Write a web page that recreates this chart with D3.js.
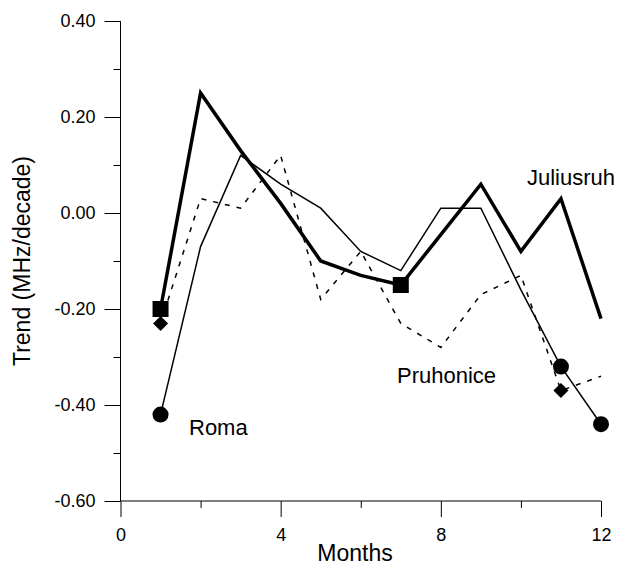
<!DOCTYPE html>
<html>
<head>
<meta charset="utf-8">
<script src="https://cdn.jsdelivr.net/npm/d3@7"></script>
<style>
  html, body { margin: 0; padding: 0; background: #fff; }
  svg { display: block; font-family: Arial, "Liberation Sans", sans-serif; }
</style>
</head>
<body>
<svg id="chart" width="623" height="571"></svg>
<script>
const months = [1, 2, 3, 4, 5, 6, 7, 8, 9, 10, 11, 12];
const juliusruh = [-0.20, 0.25, 0.13, 0.02, -0.10, -0.13, -0.15, -0.045, 0.06, -0.08, 0.03, -0.22];
const roma = [-0.42, -0.07, 0.12, 0.06, 0.01, -0.08, -0.12, 0.01, 0.01, -0.16, -0.32, -0.44];
const pruhonice = [-0.23, 0.03, 0.01, 0.12, -0.18, -0.08, -0.23, -0.28, -0.17, -0.13, -0.37, -0.34];
const yMajorTicks = [-0.6, -0.4, -0.2, 0.0, 0.2, 0.4];
const yMinorTicks = [-0.5, -0.3, -0.1, 0.1, 0.3];
const xMajorTicks = [0, 4, 8, 12];
const xMinorTicks = [2, 6, 10];
const julMarkers = [1, 7];
const romaMarkers = [1, 11, 12];
const pruMarkers = [1, 11];

const svg = d3.select("#chart");
const x = d3.scaleLinear().domain([0, 12]).range([120.5, 601]);
const y = d3.scaleLinear().domain([-0.6, 0.4]).range([501, 21]);

const fmt = v => d3.format(".2f")(v).replace("\u2212", "-");

// axes
const yAxis = svg.append("g").attr("transform", "translate(120.5,0)");
yAxis.call(d3.axisLeft(y).tickValues(yMajorTicks).tickSize(16).tickPadding(9).tickFormat(fmt).tickSizeOuter(0));
yAxis.select(".domain").remove();
yAxis.selectAll(".tick text").attr("font-size", 18).attr("font-family", "Arial, 'Liberation Sans', sans-serif").attr("fill", "#000");
const yMinor = svg.append("g").attr("transform", "translate(120.5,0)");
yMinor.call(d3.axisLeft(y).tickValues(yMinorTicks).tickSize(7).tickFormat(""));
yMinor.select(".domain").remove();

const xAxis = svg.append("g").attr("transform", "translate(0,501)");
xAxis.call(d3.axisBottom(x).tickValues(xMajorTicks).tickSize(16).tickPadding(11).tickFormat(d3.format("d")).tickSizeOuter(0));
xAxis.select(".domain").remove();
xAxis.selectAll(".tick text").attr("font-size", 18).attr("font-family", "Arial, 'Liberation Sans', sans-serif").attr("fill", "#000");
const xMinor = svg.append("g").attr("transform", "translate(0,501)");
xMinor.call(d3.axisBottom(x).tickValues(xMinorTicks).tickSize(7).tickFormat(""));
xMinor.select(".domain").remove();

svg.selectAll(".tick line").attr("stroke", "#000");

// axis lines
svg.append("line").attr("x1", x(0)).attr("x2", x(0)).attr("y1", y(0.4)).attr("y2", y(-0.6))
  .attr("stroke", "#000").attr("stroke-width", 1);
svg.append("line").attr("x1", x(0)).attr("x2", x(12)).attr("y1", y(-0.6)).attr("y2", y(-0.6))
  .attr("stroke", "#000").attr("stroke-width", 1);

// titles
svg.append("text").attr("x", 355).attr("y", 561).attr("text-anchor", "middle")
  .attr("font-size", 23).text("Months");
svg.append("text").attr("transform", "translate(30,261) rotate(-90)").attr("text-anchor", "middle")
  .attr("font-size", 23).text("Trend (MHz/decade)");

// lines
const line = vals => d3.line().x((d, i) => x(months[i])).y(d => y(d))(vals);

svg.append("path").attr("d", line(pruhonice)).attr("fill", "none").attr("stroke", "#000")
  .attr("stroke-width", 1.5).attr("stroke-dasharray", "5,7");
svg.append("path").attr("d", line(roma)).attr("fill", "none").attr("stroke", "#000")
  .attr("stroke-width", 1.5).attr("stroke-linejoin", "miter");
svg.append("path").attr("d", line(juliusruh)).attr("fill", "none").attr("stroke", "#000")
  .attr("stroke-width", 3.5).attr("stroke-linejoin", "miter");

// markers
const val = (arr, m) => arr[months.indexOf(m)];
svg.selectAll(".sq").data(julMarkers).join("rect")
  .attr("x", m => x(m) - 8).attr("y", m => y(val(juliusruh, m)) - 8)
  .attr("width", 16).attr("height", 16).attr("fill", "#000");
svg.selectAll(".ci").data(romaMarkers).join("circle")
  .attr("cx", m => x(m)).attr("cy", m => y(val(roma, m))).attr("r", 8).attr("fill", "#000");
svg.selectAll(".di").data(pruMarkers).join("path")
  .attr("d", m => { const cx = x(m), cy = y(val(pruhonice, m)); return `M${cx},${cy-7.5}L${cx+7.5},${cy}L${cx},${cy+7.5}L${cx-7.5},${cy}Z`; })
  .attr("fill", "#000");

// series labels
svg.append("text").attr("x", 527).attr("y", 185).attr("font-size", 22).text("Juliusruh");
svg.append("text").attr("x", 397).attr("y", 383).attr("font-size", 22).text("Pruhonice");
svg.append("text").attr("x", 189).attr("y", 435).attr("font-size", 22).text("Roma");
</script>
</body>
</html>
